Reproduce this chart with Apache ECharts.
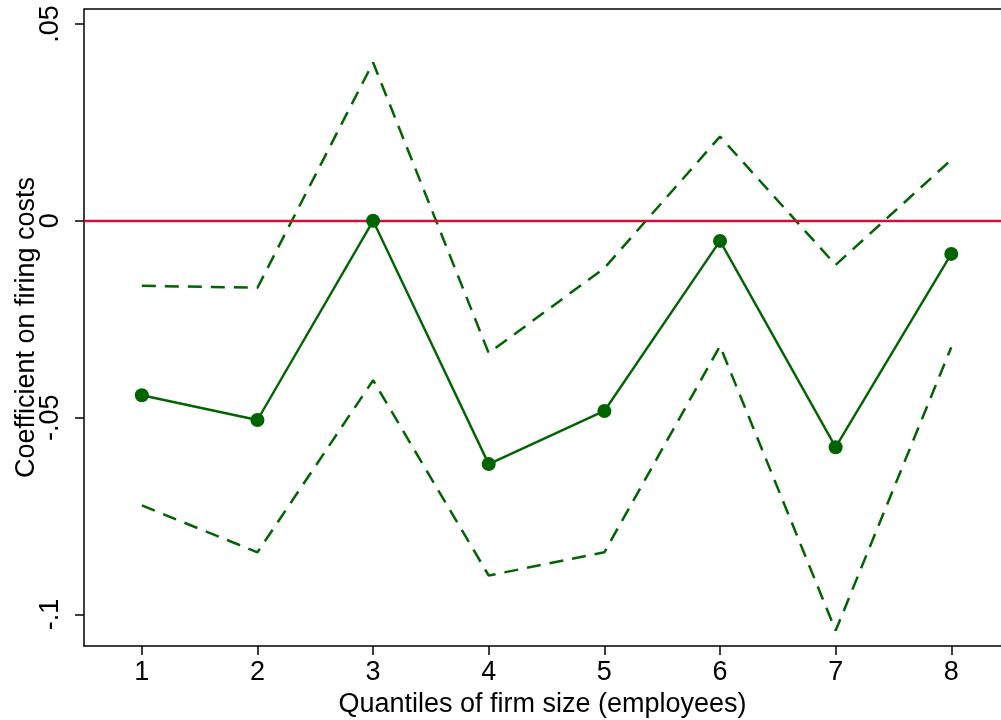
<!DOCTYPE html>
<html>
<head>
<meta charset="utf-8">
<script src="https://cdn.jsdelivr.net/npm/echarts@6/dist/echarts.min.js"></script>
<style>
  html, body { margin: 0; padding: 0; background: #fff; }
  #main { width: 1001px; height: 720px; }
</style>
</head>
<body>
<div id="main"></div>
<script>
var quantiles = [1, 2, 3, 4, 5, 6, 7, 8];
var coef  = [-0.0443, -0.0506, 0.0000, -0.0618, -0.0483, -0.0051, -0.0575, -0.0084];
var upper = [-0.0165, -0.0170, 0.0402, -0.0336, -0.0120, 0.0214, -0.0112, 0.0155];
var lower = [-0.0723, -0.0842, -0.0405, -0.0901, -0.0842, -0.0318, -0.1041, -0.0321];
var yTicks = [-0.1, -0.05, 0, 0.05];

function pairs(vals) {
    return quantiles.map(function (q, i) { return [q, vals[i]]; });
}

function yLabel(v) {
    if (Math.abs(v) < 1e-9) return '0';
    var s = String(+v.toFixed(2));
    return s.replace('0.', '.');
}

var green = '#006400';
var font = 'Liberation Sans, Arial, sans-serif';

var chart = echarts.init(document.getElementById('main'));
var option = {
    animation: false,
    grid: { left: 84, right: 0, top: 9, bottom: 74, outerBoundsMode: 'none', containLabel: false },
    xAxis: {
        type: 'value',
        min: 0.5,
        max: 8.43,
        name: 'Quantiles of firm size (employees)',
        nameLocation: 'middle',
        nameGap: 43,
        nameTextStyle: { color: '#000', fontSize: 27, fontFamily: font },
        axisLine: { show: true, onZero: false, lineStyle: { color: '#000', width: 1.5 } },
        axisTick: { show: true, length: 9, customValues: quantiles, lineStyle: { color: '#000', width: 1.5 } },
        axisLabel: { customValues: quantiles, margin: 13, color: '#000', fontSize: 27, fontFamily: font },
        splitLine: { show: false }
    },
    yAxis: {
        type: 'value',
        min: -0.108,
        max: 0.0538,
        name: 'Coefficient on firing costs',
        nameLocation: 'middle',
        nameGap: 44,
        nameMoveOverlap: false,
        nameTextStyle: { color: '#000', fontSize: 27, fontFamily: font },
        axisLine: { show: true, onZero: false, lineStyle: { color: '#000', width: 1.5 } },
        axisTick: { show: true, length: 9, customValues: yTicks, lineStyle: { color: '#000', width: 1.5 } },
        axisLabel: {
            customValues: yTicks, rotate: 90, margin: 20, color: '#000',
            fontSize: 27, fontFamily: font, formatter: yLabel
        },
        splitLine: { show: false }
    },
    series: [
        {
            name: 'upper',
            type: 'line',
            data: pairs(upper),
            symbol: 'none',
            lineStyle: { color: green, width: 2.5, type: [14, 9] },
            z: 2
        },
        {
            name: 'lower',
            type: 'line',
            data: pairs(lower),
            symbol: 'none',
            lineStyle: { color: green, width: 2.5, type: [14, 9] },
            z: 2
        },
        {
            name: 'coef',
            type: 'line',
            data: pairs(coef),
            symbol: 'circle',
            symbolSize: 14,
            itemStyle: { color: green },
            lineStyle: { color: green, width: 2.4 },
            z: 4,
            markLine: {
                silent: true,
                symbol: 'none',
                label: { show: false },
                lineStyle: { color: '#d0103a', width: 2.4, type: 'solid' },
                data: [{ yAxis: 0 }],
                z: 3
            }
        }
    ],
    graphic: [
        { type: 'line', shape: { x1: 84, y1: 9, x2: 1001, y2: 9 }, style: { stroke: '#000', lineWidth: 1.5 } }
    ]
};
chart.setOption(option);
</script>
</body>
</html>
